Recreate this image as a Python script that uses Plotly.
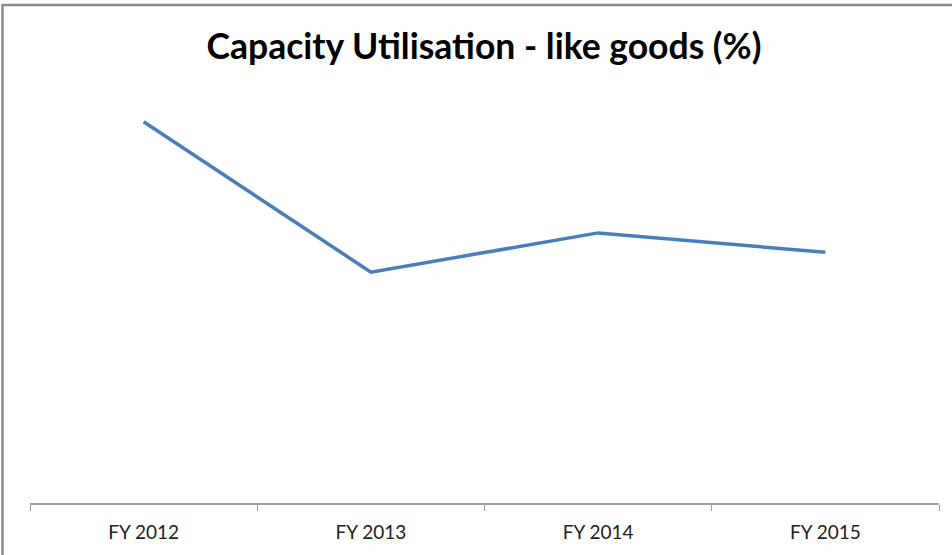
import plotly.graph_objects as go

# Capacity utilisation for like goods, by financial year (%)
years = ["FY 2012", "FY 2013", "FY 2014", "FY 2015"]
utilisation = [92.3, 55.9, 65.4, 60.7]

FIG_W, FIG_H = 952, 555
M_L, M_R, M_T, M_B = 30, 13, 90, 50
plot_w = FIG_W - M_L - M_R
plot_h = FIG_H - M_T - M_B


def px_to_paper_x(px):
    return (px - M_L) / plot_w


def px_to_paper_y(py):
    return (FIG_H - M_B - py) / plot_h


fig = go.Figure(
    go.Scatter(
        x=years,
        y=utilisation,
        mode="lines",
        line=dict(color="#4A7EBB", width=3.5),
        hoverinfo="x+y",
    )
)

fig.update_layout(
    width=FIG_W,
    height=FIG_H,
    margin=dict(l=M_L, r=M_R, t=M_T, b=M_B),
    paper_bgcolor="white",
    plot_bgcolor="white",
    showlegend=False,
    title=dict(
        text="<b>Capacity Utilisation - like goods (%)</b>",
        x=484 / FIG_W,
        xanchor="center",
        y=1 - 47 / FIG_H,
        yanchor="middle",
        font=dict(family="Lato", size=35.5, color="#000000"),
    ),
    xaxis=dict(
        type="category",
        range=[-0.5, len(years) - 0.5],
        showline=True,
        linecolor="#A0A0A0",
        linewidth=1.5,
        ticks="outside",
        tickson="boundaries",
        ticklen=6,
        tickcolor="#A0A0A0",
        ticklabelstandoff=11,
        showgrid=False,
        zeroline=False,
        tickfont=dict(family="Lato", size=19, color="#222222"),
        fixedrange=True,
    ),
    yaxis=dict(
        range=[0, 100],
        visible=False,
        showgrid=False,
        zeroline=False,
        fixedrange=True,
    ),
    shapes=[
        # chart frame (left and top edges fall inside the page)
        dict(
            type="rect",
            xref="paper",
            yref="paper",
            x0=px_to_paper_x(2.5),
            x1=px_to_paper_x(FIG_W + 10),
            y0=px_to_paper_y(FIG_H + 10),
            y1=px_to_paper_y(4.5),
            line=dict(color="#8C8C8C", width=2.5),
            fillcolor="rgba(0,0,0,0)",
            layer="below",
        )
    ],
)

fig.write_html("out.html")
